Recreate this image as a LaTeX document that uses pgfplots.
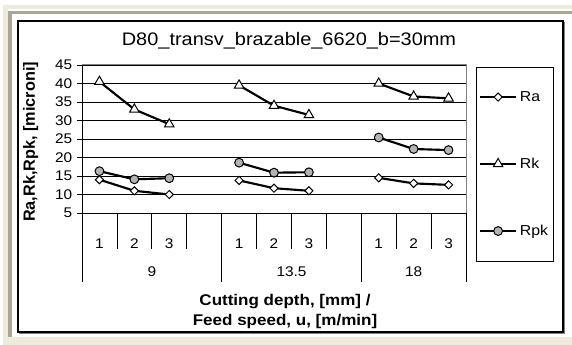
\documentclass[border=0pt]{standalone}
\usepackage{fontspec}
\setmainfont{Liberation Sans}[FakeStretch=1.1]
\newfontfamily\ylabfont{Liberation Sans}
\usepackage{pgfplots}
\pgfplotsset{compat=1.18}
\definecolor{beige}{HTML}{EEEBDC}
\definecolor{framegray}{HTML}{A9A797}
\definecolor{rpkfill}{HTML}{B3B3B3}
\definecolor{bordergray}{HTML}{808080}
\begin{document}
\begin{tikzpicture}[x=0.75pt,y=0.75pt]
% page background and frame
\fill[white] (0,0) rectangle (572,345);
\fill[beige] (3,336) rectangle (572,340);
\fill[beige] (3,0) rectangle (8,340);
\fill[beige] (3,0) rectangle (572,8);
\fill[framegray] (8,331) rectangle (572,334);
\fill[framegray] (8,8) rectangle (12,334);
\draw[bordergray, line width=0.75pt] (19,11.5) -- (564.5,11.5) -- (564.5,323);
\draw[black, line width=1.1pt] (18,13) rectangle (563,324);
% title
\node[anchor=base, inner sep=0pt] at (289,299) {\fontsize{13.6}{16}\selectfont D80\_transv\_brazable\_6620\_b=30mm};
\begin{axis}[
  at={(61.5pt,99pt)}, anchor=south west, scale only axis,
  width=288pt, height=111pt,
  xmin=0.5, xmax=11.5, ymin=5, ymax=45,
  ytick={5,10,...,45},
  xtick={1,2,3,5,6,7,9,10,11},
  xticklabels={1,2,3,1,2,3,1,2,3},
  xtick style={draw=none},
  xticklabel style={anchor=base, yshift=-23.25pt, font=\fontsize{10.5}{12}\selectfont},
  ytick pos=left, tick align=outside,
  major tick length=3.75pt,
  ytick style={black, line width=0.6pt},
  yticklabel style={font=\fontsize{10.5}{12}\selectfont},
  /pgf/number format/assume math mode=true,
  axis line style={draw=none},
  ymajorgrids, grid style={black, line width=0.6pt},
  clip=false,
  unbounded coords=jump,
  legend style={at={(1.026,0.9865)}, anchor=north west, draw=black, line width=0.6pt,
    inner xsep=2pt, inner ysep=15.8pt, row sep=37pt,
    font=\fontsize{10.8}{12}\selectfont},
  legend cell align=left,
  legend image code/.code={\draw[mark repeat=2,mark phase=2,#1] plot coordinates {(0pt,0pt) (13.5pt,0pt) (27pt,0pt)};},
]
\draw[black, line width=0.6pt] (rel axis cs:0,0) -- (rel axis cs:1,0);
\draw[bordergray, line width=0.75pt] (rel axis cs:0,1) -- (rel axis cs:1,1) -- (rel axis cs:1,0);
\draw[black, line width=0.75pt] (rel axis cs:0,0) -- (rel axis cs:0,1);

\addplot[black, line width=1.6pt, mark=square*, mark size=2.15pt,
  mark options={solid, fill=white, line width=0.75pt, rotate=45}]
  coordinates {(1,14) (2,11) (3,10) (4,nan) (5,13.8) (6,11.7) (7,11) (8,nan) (9,14.5) (10,13) (11,12.6)};
\addlegendentry{Ra}
\addplot[black, line width=1.6pt, mark=triangle*, mark size=4.1pt,
  mark options={solid, fill=white, line width=0.75pt}]
  coordinates {(1,40.5) (2,33) (3,29) (4,nan) (5,39.5) (6,34) (7,31.5) (8,nan) (9,40) (10,36.5) (11,36)};
\addlegendentry{Rk}
\addplot[black, line width=1.6pt, mark=*, mark size=3.3pt,
  mark options={solid, fill=rpkfill, line width=0.75pt}]
  coordinates {(1,16.3) (2,14.1) (3,14.4) (4,nan) (5,18.6) (6,15.9) (7,16) (8,nan) (9,25.4) (10,22.3) (11,22)};
\addlegendentry{Rpk}
\end{axis}
% category axis lines
\begin{scope}[black, line width=0.6pt]
\foreach \k in {1,2,3,5,6,7,9,10} {\draw ({82+34.909*\k},132) -- ({82+34.909*\k},96);}
\foreach \k in {0,4,8,11} {\draw ({82+34.909*\k},132) -- ({82+34.909*\k},63);}
\end{scope}
\begin{scope}[every node/.style={anchor=base, inner sep=0pt, font=\fontsize{10.5}{12}\selectfont}]
\node at (151.8,68) {9};
\node at (291.5,68) {13.5};
\node at (413.6,68) {18};
\end{scope}
% axis titles
\node[anchor=base, inner sep=0pt, font=\bfseries\fontsize{11.6}{14}\selectfont] at (285,39.3) {Cutting depth, [mm] /};
\node[anchor=base, inner sep=0pt, font=\bfseries\fontsize{11.6}{14}\selectfont] at (285,19.3) {Feed speed, u, [m/min]};
\node[anchor=base, rotate=90, inner sep=0pt, font=\ylabfont\bfseries\fontsize{12.2}{14}\selectfont] at (35,203) {Ra,Rk,Rpk, [microni]};
\end{tikzpicture}
\end{document}
